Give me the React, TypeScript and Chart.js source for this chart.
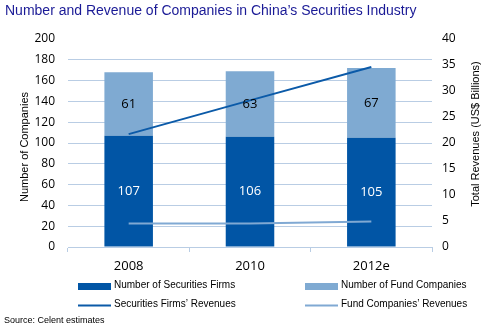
import React, { useEffect, useRef } from "react";
import { Chart, registerables } from "chart.js";

Chart.register(...registerables);

const categories = ["2008", "2010", "2012e"];
const securitiesFirms = [107, 106, 105];
const fundCompanies = [61, 63, 67];
const securitiesRevenue = [21.7, 28.2, 34.6];
const fundRevenue = [4.5, 4.5, 4.9];

const title = "Number and Revenue of Companies in China\u2019s Securities Industry";
const leftAxisTitle = "Number of Companies";
const rightAxisTitle = "Total Revenues (US$ Billions)";
const sourceText = "Source: Celent estimates";

const DARK = "#0155A5";
const LIGHT = "#7FAAD2";
const DARK_LINE = "#0B5AA8";
const LIGHT_LINE = "#80A9D3";
const GRID = "#B9CDE4";
const TICK_FONT = "'Open Sans', 'Noto Sans', sans-serif";
const ARIAL = "'Liberation Sans', Arial, sans-serif";

const decorPlugin = {
  id: "decor",
  afterDatasetsDraw(chart: any) {
    const ctx = chart.ctx;
    ctx.save();
    chart.data.datasets.forEach((ds: any, i: number) => {
      if (ds.type !== "bar") return;
      const meta = chart.getDatasetMeta(i);
      meta.data.forEach((el: any, j: number) => {
        const yc = (el.y + el.base) / 2;
        ctx.font = `13px ${TICK_FONT}`;
        ctx.fillStyle = ds.labelColor;
        ctx.textAlign = "center";
        ctx.textBaseline = "middle";
        ctx.fillText(String(ds.data[j]), el.x, yc);
      });
    });
    ctx.restore();
  },
  afterDraw(chart: any) {
    const ctx = chart.ctx;
    ctx.save();
    ctx.font = `14px ${ARIAL}`;
    ctx.fillStyle = "#1A1A96";
    ctx.textAlign = "left";
    ctx.textBaseline = "middle";
    ctx.fillText(title, 5, 11);

    ctx.font = `11px ${ARIAL}`;
    ctx.fillStyle = "#000";
    ctx.textAlign = "center";
    ctx.save();
    ctx.translate(25, 147);
    ctx.rotate(-Math.PI / 2);
    ctx.fillText(leftAxisTitle, 0, 0);
    ctx.restore();
    ctx.save();
    ctx.translate(476, 134);
    ctx.rotate(-Math.PI / 2);
    ctx.fillText(rightAxisTitle, 0, 0);
    ctx.restore();

    const items = [
      { label: chart.data.datasets[2].label, color: DARK, kind: "box", x: 78, y: 286.5 },
      { label: chart.data.datasets[3].label, color: LIGHT, kind: "box", x: 305, y: 286.5 },
      { label: chart.data.datasets[0].label, color: DARK_LINE, kind: "line", x: 78, y: 305.5 },
      { label: chart.data.datasets[1].label, color: LIGHT_LINE, kind: "line", x: 305, y: 305.5 },
    ];
    ctx.font = `10px ${ARIAL}`;
    ctx.textAlign = "left";
    ctx.textBaseline = "middle";
    items.forEach((it) => {
      ctx.fillStyle = it.color;
      if (it.kind === "box") {
        ctx.fillRect(it.x, it.y - 3.5, 33, 7);
      } else {
        ctx.fillRect(it.x, it.y - 1, 33, 2);
      }
      ctx.fillStyle = "#000";
      ctx.fillText(it.label, it.x + 36, it.y - 1.5);
    });

    ctx.font = `9px ${ARIAL}`;
    ctx.fillStyle = "#000";
    ctx.fillText(sourceText, 4, 321);
    ctx.restore();
  },
};

export default function App() {
  const ref = useRef<HTMLCanvasElement>(null);
  useEffect(() => {
    if (!ref.current) return;
    const chart = new Chart(ref.current, {
      type: "bar",
      data: {
        labels: categories,
        datasets: [
          {
            type: "line",
            label: "Securities Firms\u2019 Revenues",
            data: securitiesRevenue,
            yAxisID: "y1",
            borderColor: DARK_LINE,
            borderWidth: 2,
            pointRadius: 0,
            tension: 0,
            order: 0,
          } as any,
          {
            type: "line",
            label: "Fund Companies\u2019 Revenues",
            data: fundRevenue,
            yAxisID: "y1",
            borderColor: LIGHT_LINE,
            borderWidth: 2,
            pointRadius: 0,
            tension: 0,
            order: 0,
          } as any,
          {
            type: "bar",
            label: "Number of Securities Firms",
            data: securitiesFirms,
            backgroundColor: DARK,
            yAxisID: "y",
            stack: "s",
            barPercentage: 0.4,
            categoryPercentage: 1,
            order: 1,
            labelColor: "#FFFFFF",
          } as any,
          {
            type: "bar",
            label: "Number of Fund Companies",
            data: fundCompanies,
            backgroundColor: LIGHT,
            yAxisID: "y",
            stack: "s",
            barPercentage: 0.4,
            categoryPercentage: 1,
            order: 1,
            labelColor: "#000000",
          } as any,
        ],
      },
      options: {
        responsive: false,
        animation: false,
        devicePixelRatio: 1,
        layout: { padding: { top: 39, left: 0, right: 0, bottom: 0 } },
        plugins: {
          legend: { display: false },
          tooltip: { enabled: false },
          title: { display: false },
        },
        scales: {
          x: {
            stacked: true,
            afterFit: (s: any) => {
              s.height = 84;
            },
            grid: {
              display: true,
              drawOnChartArea: false,
              drawTicks: true,
              tickLength: 5,
              color: GRID,
              offset: true,
            },
            border: { display: true, color: GRID },
            ticks: {
              color: "#000",
              font: { family: TICK_FONT, size: 13 },
              padding: 6,
            },
          },
          y: {
            position: "left",
            stacked: true,
            min: 0,
            max: 200,
            afterFit: (s: any) => {
              s.width = 68;
            },
            ticks: {
              stepSize: 20,
              color: "#000",
              font: { family: TICK_FONT, size: 12 },
              padding: 13,
            },
            grid: {
              drawTicks: false,
              color: (c: any) => (c.tick && c.tick.value === 200 ? "rgba(0,0,0,0)" : GRID),
            },
            border: { display: false },
          },
          y1: {
            position: "right",
            min: 0,
            max: 40,
            afterFit: (s: any) => {
              s.width = 70;
            },
            ticks: {
              stepSize: 5,
              color: "#000",
              font: { family: TICK_FONT, size: 12 },
              padding: 10,
            },
            grid: { display: false, drawTicks: false },
            border: { display: false },
          },
        },
      },
      plugins: [decorPlugin],
    });
    return () => chart.destroy();
  }, []);
  return (
    <div style={{ position: "absolute", left: 0, top: 0, width: 502, height: 331, background: "#fff" }}>
      <canvas ref={ref} width={502} height={331} style={{ width: 502, height: 331 }} />
    </div>
  );
}
